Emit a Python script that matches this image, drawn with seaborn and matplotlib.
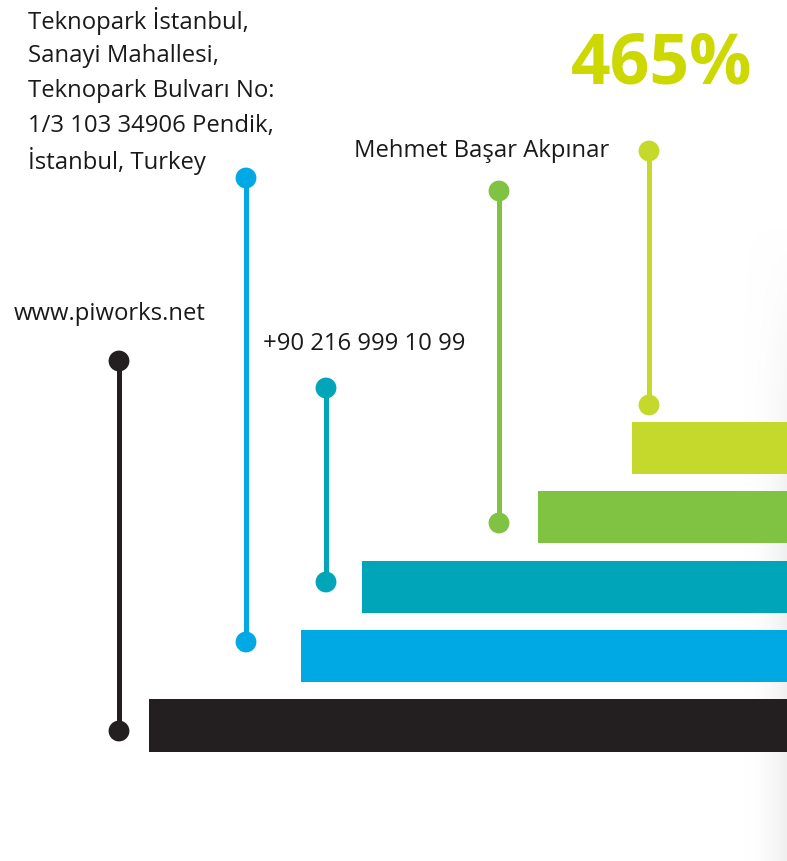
import numpy as np
import pandas as pd
import matplotlib
matplotlib.use("Agg")
import matplotlib.pyplot as plt
from matplotlib.colors import LinearSegmentedColormap
import seaborn as sns

# bars, top to bottom; length measured from the right edge
bar_names = ["growth", "team", "phone", "address", "web"]
bar_lengths = [155, 249, 425, 486, 638]
bar_colors = ["#C5D92D", "#80C242", "#00A5B9", "#00A9E4", "#231F20"]

# lollipops: x position, top dot, bottom dot (pixel-like units)
stem_names = ["web", "address", "phone", "team", "growth"]
stem_x = [119, 246, 326, 499, 649]
stem_top = [362, 179, 389, 192, 152]
stem_bottom = [732, 643, 583, 524, 406]
stem_colors = ["#231F20", "#00A9E4", "#00A5B9", "#80C242", "#C5D92D"]

web_label = "www.piworks.net"
address_lines = [
    "Teknopark İstanbul,",
    "Sanayi Mahallesi,",
    "Teknopark Bulvarı No:",
    "1/3 103 34906 Pendik,",
    "İstanbul, Turkey",
]
phone_label = "+90 216 999 10 99"
name_label = "Mehmet Başar Akpınar"
headline = "465%"

sns.set_theme(style="white")
plt.rcParams["font.family"] = ["Open Sans", "DejaVu Sans"]

W, H = 787, 862
fig = plt.figure(figsize=(W / 100, H / 100), dpi=100)
ax = fig.add_axes([0, 0, 1, 1])

# soft grey shade on the right edge
gx = np.linspace(0, 1, 60) ** 2
gy = np.clip((np.linspace(0, H, 200) - 230) / 300, 0, 1)
shade = gy[:, None] * gx[None, :]
cmap = LinearSegmentedColormap.from_list("shade", ["#FFFFFF", "#F0F0F0"])
ax.imshow(shade, extent=[740, W, H, 0], cmap=cmap, aspect="auto", zorder=0,
          vmin=0, vmax=1)

# stems and dots
ax.vlines(stem_x, stem_top, stem_bottom, colors=stem_colors, linewidth=3.6, zorder=2)
dots = pd.DataFrame({
    "x": stem_x * 2,
    "y": stem_top + stem_bottom,
    "name": stem_names * 2,
})
sns.scatterplot(data=dots, x="x", y="y", hue="name", palette=dict(zip(stem_names, stem_colors)),
                s=225, linewidth=0, legend=False, ax=ax, zorder=3)

ax.set_xlim(0, W)
ax.set_ylim(H, 0)
ax.axis("off")

# texts
txt = dict(color="#1A1A1A", fontsize=17.2)
ax.text(14, 311, web_label, ha="left", va="center_baseline", **txt)
for i, line in enumerate(address_lines):
    ax.text(28, 18 + 35 * i, line, ha="left", va="center_baseline", **txt)
ax.text(263, 341, phone_label, ha="left", va="center_baseline", **txt)
ax.text(354, 148, name_label, ha="left", va="center_baseline", **txt)
ax.text(752, 57, headline, ha="right", va="center_baseline", fontsize=50, fontweight="bold",
        color="#CCD800")

# bars
spacing = (726.5 - 449) / 4
top_px = 449 - spacing / 2
bot_px = 726.5 + spacing / 2
bax = fig.add_axes([0, 1 - bot_px / H, 1, (bot_px - top_px) / H])
bax.patch.set_alpha(0)
bar_df = pd.DataFrame({"name": bar_names, "length": bar_lengths})
sns.barplot(data=bar_df, x="length", y="name", hue="name", palette=bar_colors,
            orient="h", width=0.75, saturation=1, linewidth=0, legend=False, ax=bax)
bax.set_xlim(W, 0)
bax.set_ylim(len(bar_names) - 0.5, -0.5)
bax.axis("off")

fig.savefig("out.png", dpi=100)
